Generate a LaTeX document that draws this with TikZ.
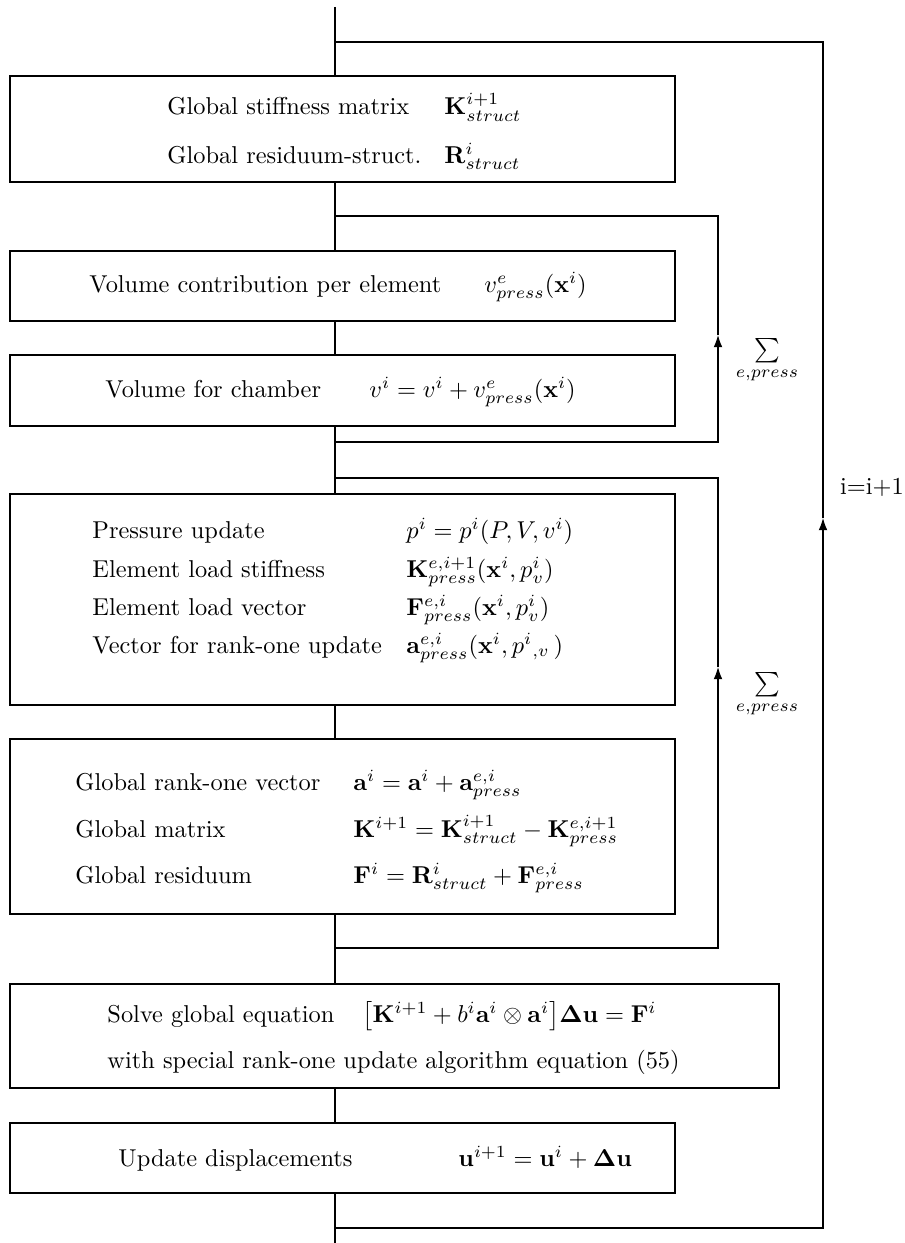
\documentclass[tikz,border=0pt]{standalone}
\usepackage{amsmath}
\usetikzlibrary{arrows.meta}
\begin{document}
\begin{tikzpicture}[x=0.41pt,y=-0.41pt,
  flowbox/.style={draw, line width=0.8pt, fill=white, inner sep=0pt},
  conn/.style={line width=0.45pt},
  lbl/.style={anchor=base west, inner sep=0pt},
  uparrow/.style={-{Latex[length=5pt,width=3.6pt]}}]
\useasboundingbox (0,0) rectangle (904,1243);

% boxes
\node[flowbox, minimum width={665*0.41pt}, minimum height={106*0.41pt}] (b1) at (342.5,129) {};
\node[flowbox, minimum width={665*0.41pt}, minimum height={70*0.41pt}] (b2) at (342.5,286) {};
\node[flowbox, minimum width={665*0.41pt}, minimum height={71*0.41pt}] (b3) at (342.5,390.5) {};
\node[flowbox, minimum width={665*0.41pt}, minimum height={211*0.41pt}] (b4) at (342.5,599.5) {};
\node[flowbox, minimum width={665*0.41pt}, minimum height={175*0.41pt}] (b5) at (342.5,826.5) {};
\node[flowbox, minimum width={769*0.41pt}, minimum height={104*0.41pt}] (b6) at (394.5,1036) {};
\node[flowbox, minimum width={665*0.41pt}, minimum height={70*0.41pt}] (b7) at (342.5,1158) {};

% box texts
\node[lbl] (t1a) at (167,115) {Global stiffness matrix};
\node[lbl] (m1a) at (444,115) {$\mathbf{K}^{i+1}_{struct}$};
\node[lbl] (t1b) at (167,163) {Global residuum-struct.};
\node[lbl] (m1b) at (444,163) {$\mathbf{R}^{i}_{struct}$};

\node[lbl] (t2) at (89,292) {Volume contribution per element};
\node[lbl] (m2) at (484,292) {$v^e_{press}(\mathbf{x}^i)$};

\node[lbl] (t3) at (105,397) {Volume for chamber};
\node[lbl] (m3) at (369,397) {$v^i = v^i + v^e_{press}(\mathbf{x}^i)$};

\node[lbl] (t4a) at (92,538) {Pressure update};
\node[lbl] (m4a) at (406,538) {$p^i = p^i(P,V,v^i)$};
\node[lbl] (t4b) at (92,577) {Element load stiffness};
\node[lbl] (m4b) at (406,577) {$\mathbf{K}^{e,i+1}_{press}(\mathbf{x}^i,p^i_v)$};
\node[lbl] (t4c) at (92,615) {Element load vector};
\node[lbl] (m4c) at (406,615) {$\mathbf{F}^{e,i}_{press}(\mathbf{x}^i,p^i_v)$};
\node[lbl] (t4d) at (92,653) {Vector for rank-one update};
\node[lbl] (m4d) at (406,653) {$\mathbf{a}^{e,i}_{press}(\mathbf{x}^i,p^i{}_{,v}\,)$};

\node[lbl] (t5a) at (75,790) {Global rank-one vector};
\node[lbl] (m5a) at (353,790) {$\mathbf{a}^i = \mathbf{a}^i + \mathbf{a}^{e,i}_{press}$};
\node[lbl] (t5b) at (75,837) {Global matrix};
\node[lbl] (m5b) at (353,837) {$\mathbf{K}^{i+1} = \mathbf{K}^{i+1}_{struct} - \mathbf{K}^{e,i+1}_{press}$};
\node[lbl] (t5c) at (75,883) {Global residuum};
\node[lbl] (m5c) at (353,883) {$\mathbf{F}^{i} = \mathbf{R}^{i}_{struct} + \mathbf{F}^{e,i}_{press}$};

\node[lbl] (t6a) at (107,1022) {Solve global equation};
\node[lbl] (m6a) at (362,1022) {$\bigl[\mathbf{K}^{i+1} + b^i\mathbf{a}^i\otimes\mathbf{a}^i\bigr]\mathbf{\Delta u} = \mathbf{F}^i$};
\node[lbl] (t6b) at (107,1068) {with special rank-one update algorithm equation (55)};

\node[lbl] (t7) at (118,1166) {Update displacements};
\node[lbl] (m7) at (458,1166) {$\mathbf{u}^{i+1} = \mathbf{u}^i + \mathbf{\Delta u}$};

% side labels
\node (s1) at (767,361) {$\sum\limits_{e,press}$};
\node (s2) at (767,695) {$\sum\limits_{e,press}$};
\node (inc) at (872,487) {i=i+1};

% main line
\coordinate (top) at (335,7);
\coordinate (bot) at (335,1243);
\draw[conn] (top) -- (b1.north -| top);
\draw[conn] (b1.south -| top) -- (b2.north -| top);
\draw[conn] (b2.south -| top) -- (b3.north -| top);
\draw[conn] (b3.south -| top) -- (b4.north -| top);
\draw[conn] (b4.south -| top) -- (b5.north -| top);
\draw[conn] (b5.south -| top) -- (b6.north -| top);
\draw[conn] (b6.south -| top) -- (b7.north -| top);
\draw[conn] (b7.south -| top) -- (bot);

% outer loop
\coordinate (o1) at (335,42);
\coordinate (o2) at (823,42);
\coordinate (o3) at (823,1228);
\coordinate (o4) at (335,1228);
\coordinate (oa) at (823,518);
\draw[conn,uparrow] (o4) -- (o3) -- (oa);
\draw[conn] (oa) -- (o2) -- (o1);

% loop 2
\coordinate (p1) at (335,216);
\coordinate (p2) at (718,216);
\coordinate (p3) at (718,442);
\coordinate (p4) at (335,442);
\coordinate (pa) at (718,335);
\draw[conn,uparrow] (p4) -- (p3) -- (pa);
\draw[conn] (pa) -- (p2) -- (p1);

% loop 3
\coordinate (q1) at (335,478);
\coordinate (q2) at (718,478);
\coordinate (q3) at (718,948);
\coordinate (q4) at (335,948);
\coordinate (qa) at (718,667);
\draw[conn,uparrow] (q4) -- (q3) -- (qa);
\draw[conn] (qa) -- (q2) -- (q1);
\end{tikzpicture}
\end{document}
